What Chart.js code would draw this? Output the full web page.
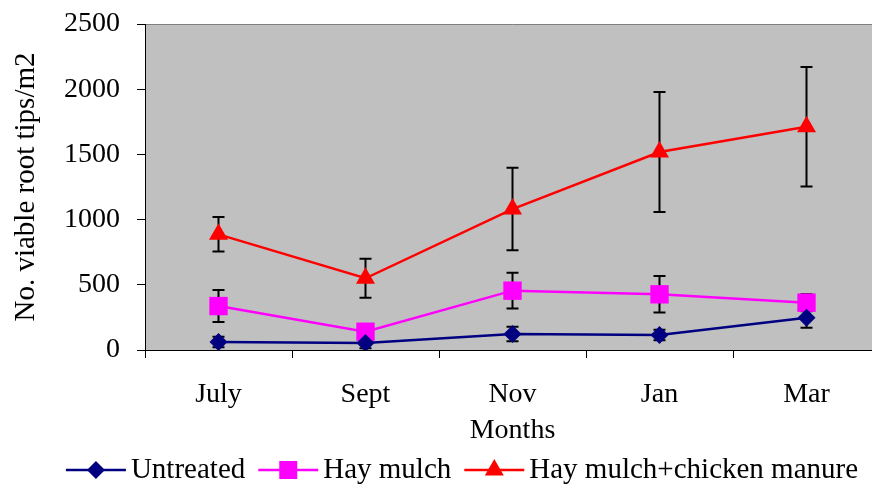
<!DOCTYPE html>
<html>
<head>
<meta charset="utf-8">
<script src="https://cdn.jsdelivr.net/npm/chart.js@4/dist/chart.umd.min.js"></script>
<style>
  html, body { margin: 0; padding: 0; background: #fff; overflow: hidden; }
  #wrap { width: 872px; height: 489px; overflow: hidden; }
</style>
</head>
<body>
<div id="wrap"><canvas id="chart" width="880" height="489"></canvas></div>
<script>
// values
var months = ['July', 'Sept', 'Nov', 'Jan', 'Mar'];
var untreated = [61, 54, 123, 115, 248];
var untreatedErr = [40, 40, 55, 40, 77];
var hayMulch = [337, 140, 455, 427, 363];
var hayMulchErr = [123, 60, 137, 140, 65];
var hayChicken = [887, 550, 1081, 1518, 1712];
var hayChickenErr = [132, 150, 317, 460, 458];
var yTicks = [0, 500, 1000, 1500, 2000, 2500];

var serif = "'Liberation Serif', 'Times New Roman', serif";
var errors = [untreatedErr, hayMulchErr, hayChickenErr];

var plotBackground = {
    id: 'plotBackground',
    beforeDraw: function(chart) {
        var ctx = chart.ctx, a = chart.chartArea;
        ctx.save();
        ctx.fillStyle = '#c0c0c0';
        ctx.fillRect(a.left, a.top, a.right - a.left, a.bottom - a.top);
        ctx.strokeStyle = '#808080';
        ctx.lineWidth = 1;
        ctx.beginPath();
        ctx.moveTo(a.left, a.top + 0.5);
        ctx.lineTo(a.right, a.top + 0.5);
        ctx.stroke();
        ctx.restore();
    }
};

var errorBars = {
    id: 'errorBars',
    beforeDatasetsDraw: function(chart) {
        var ctx = chart.ctx;
        var x = chart.scales.x, y = chart.scales.y;
        ctx.save();
        ctx.strokeStyle = '#000';
        ctx.lineWidth = 2;
        chart.data.datasets.forEach(function(ds, i) {
            ds.data.forEach(function(v, j) {
                var e = errors[i][j];
                var px = x.getPixelForValue(j);
                var top = y.getPixelForValue(v + e);
                var bot = y.getPixelForValue(v - e);
                ctx.beginPath();
                ctx.moveTo(px, top); ctx.lineTo(px, bot);
                ctx.moveTo(px - 6, top); ctx.lineTo(px + 6, top);
                ctx.moveTo(px - 6, bot); ctx.lineTo(px + 6, bot);
                ctx.stroke();
            });
        });
        ctx.restore();
    }
};

function drawMarker(ctx, style, x, y, color) {
    ctx.fillStyle = color;
    ctx.beginPath();
    if (style == 'rectRot') {
        ctx.moveTo(x, y - 9); ctx.lineTo(x + 9, y); ctx.lineTo(x, y + 9); ctx.lineTo(x - 9, y);
    } else if (style == 'rect') {
        ctx.rect(x - 9, y - 9, 18, 18);
    } else {
        ctx.moveTo(x, y - 11); ctx.lineTo(x + 9.5, y + 5.5); ctx.lineTo(x - 9.5, y + 5.5);
    }
    ctx.closePath();
    ctx.fill();
}

var bottomLegend = {
    id: 'bottomLegend',
    afterDraw: function(chart) {
        var ctx = chart.ctx;
        ctx.save();
        ctx.font = '29px ' + serif;
        ctx.textBaseline = 'middle';
        var items = chart.data.datasets;
        var total = 0;
        items.forEach(function(ds, i) {
            total += 60 + 5 + ctx.measureText(ds.label).width;
            if (i < items.length - 1) total += 13;
        });
        var x = 462 - total / 2, y = 470;
        items.forEach(function(ds) {
            ctx.strokeStyle = ds.borderColor;
            ctx.lineWidth = 2.5;
            ctx.beginPath();
            ctx.moveTo(x, y); ctx.lineTo(x + 60, y);
            ctx.stroke();
            drawMarker(ctx, ds.pointStyle, x + 30, y, ds.pointBackgroundColor);
            ctx.fillStyle = '#000';
            ctx.fillText(ds.label, x + 65, y);
            x += 60 + 5 + ctx.measureText(ds.label).width + 13;
        });
        ctx.restore();
    }
};

var config = {
    type: 'line',
    data: {
        labels: months,
        datasets: [
            {
                label: 'Untreated', data: untreated,
                borderColor: '#000080', pointBackgroundColor: '#000080', pointBorderColor: '#000080',
                pointStyle: 'rectRot', pointRadius: 9, borderWidth: 2.5, pointBorderWidth: 0
            },
            {
                label: 'Hay mulch', data: hayMulch,
                borderColor: '#ff00ff', pointBackgroundColor: '#ff00ff', pointBorderColor: '#ff00ff',
                pointStyle: 'rect', pointRadius: 13, borderWidth: 2.5, pointBorderWidth: 0
            },
            {
                label: 'Hay mulch+chicken manure', data: hayChicken,
                borderColor: '#ff0000', pointBackgroundColor: '#ff0000', pointBorderColor: '#ff0000',
                pointStyle: 'triangle', pointRadius: 11, borderWidth: 2.5, pointBorderWidth: 0
            }
        ]
    },
    options: {
        responsive: false,
        animation: false,
        layout: { autoPadding: false, padding: { top: 24, right: 0, bottom: 42, left: 0 } },
        plugins: { legend: { display: false }, tooltip: { enabled: false } },
        scales: {
            x: {
                offset: true,
                grid: { offset: true, drawOnChartArea: false, tickLength: 8, color: '#000' },
                border: { color: '#000', width: 1 },
                ticks: { color: '#000', padding: 20, font: { family: serif, size: 28 } },
                title: { display: true, text: 'Months', color: '#000', padding: 0, font: { family: serif, size: 28 } },
                afterFit: function(s) { s.height = 97; s.paddingLeft = 0; s.paddingRight = 0; }
            },
            y: {
                min: 0, max: 2500,
                afterBuildTicks: function(s) { s.ticks = yTicks.map(function(v) { return { value: v }; }); },
                grid: { drawOnChartArea: false, tickLength: 8, color: '#000' },
                border: { color: '#000', width: 1 },
                ticks: {
                    color: '#000', padding: 17, font: { family: serif, size: 28 },
                    callback: function(v) { return String(v); }
                },
                title: { display: true, text: 'No. viable root tips/m2', color: '#000', padding: { top: 9, bottom: 0 }, font: { family: serif, size: 29 } },
                afterFit: function(s) { s.width = 145; s.paddingTop = 0; s.paddingBottom = 0; }
            }
        }
    },
    plugins: [plotBackground, errorBars, bottomLegend]
};

var chart = new Chart(document.getElementById('chart'), config);
</script>
</body>
</html>
